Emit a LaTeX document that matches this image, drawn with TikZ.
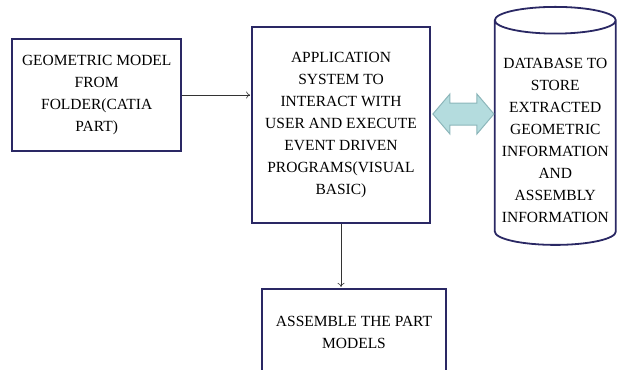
\documentclass[tikz,border=0pt]{standalone}
\usepackage{fontspec}
\setmainfont{Liberation Serif}
\newfontfamily\boxfont{Liberation Serif}
\usetikzlibrary{
	arrows,arrows.meta,shapes,positioning,calc
}
\definecolor{boxblue}{RGB}{42,40,100}
\definecolor{linkfill}{RGB}{180,220,222}
\definecolor{linkdraw}{RGB}{140,182,186}
\tikzset{
	auto,
	>={To[length=4pt,width=7pt]},
	stepbox/.style={
		rectangle, inner sep=0pt, align=center,
		line width=1.8pt, draw=boxblue, fill=white, text=black,
		font=\boxfont\fontsize{15.5}{22}\selectfont
	},
	%
	store/.style={
		cylinder, shape border rotate=90, aspect=0.25, inner sep=0pt, align=center,
		line width=1.8pt, draw=boxblue, fill=white, text=black,
		font=\boxfont\fontsize{15.5}{22}\selectfont
	},
	%
	flow/.style={
		->, line width=0.6pt, black!80, shorten >=1pt
	},
	%
	link/.style={
		line width=1pt, draw=linkdraw, fill=linkfill
	}
}
\begin{document}
\begin{tikzpicture}
    \useasboundingbox (0,0) rectangle (617pt,-369pt);
    \node(app)[stepbox, minimum width=178pt, minimum height=196pt] at (341pt,-125pt){APPLICATION\\ SYSTEM TO\\ INTERACT WITH\\ USER AND EXECUTE\\ EVENT DRIVEN\\ PROGRAMS(VISUAL\\ BASIC)};
    \node(geo)[stepbox, minimum width=169pt, minimum height=112pt, left=69pt of app, yshift=30pt]{GEOMETRIC MODEL\\ FROM\\ FOLDER(CATIA\\ PART)};
    \node(asm)[stepbox, minimum width=184pt, minimum height=88pt, below=64pt of app, xshift=13pt]{ASSEMBLE THE PART\\ MODELS};
    \node(db)[store, minimum width=121pt, minimum height=238pt, right=63pt of app, yshift=-8pt]{\rule{0pt}{24.5pt}DATABASE TO\\ STORE\\ EXTRACTED\\ GEOMETRIC\\ INFORMATION\\ AND\\ ASSEMBLY\\ INFORMATION};
    \draw[flow] (geo.east) -- (geo.east -| app.west);
    \draw[flow] (app.south) -- (app.south |- asm.north);
    \coordinate (l) at ([xshift=2pt, yshift=11pt]app.east);
    \coordinate (r) at (l -| db.west);
    \filldraw[link] (l) -- ++(17pt,20pt) -- ++(0,-9pt) -- ($(r)+(-17pt,11pt)$) -- ++(0,9pt) -- (r) -- ++(-17pt,-20pt) -- ++(0,9pt) -- ($(l)+(17pt,-11pt)$) -- ++(0,-9pt) -- cycle;
\end{tikzpicture}
\end{document}
